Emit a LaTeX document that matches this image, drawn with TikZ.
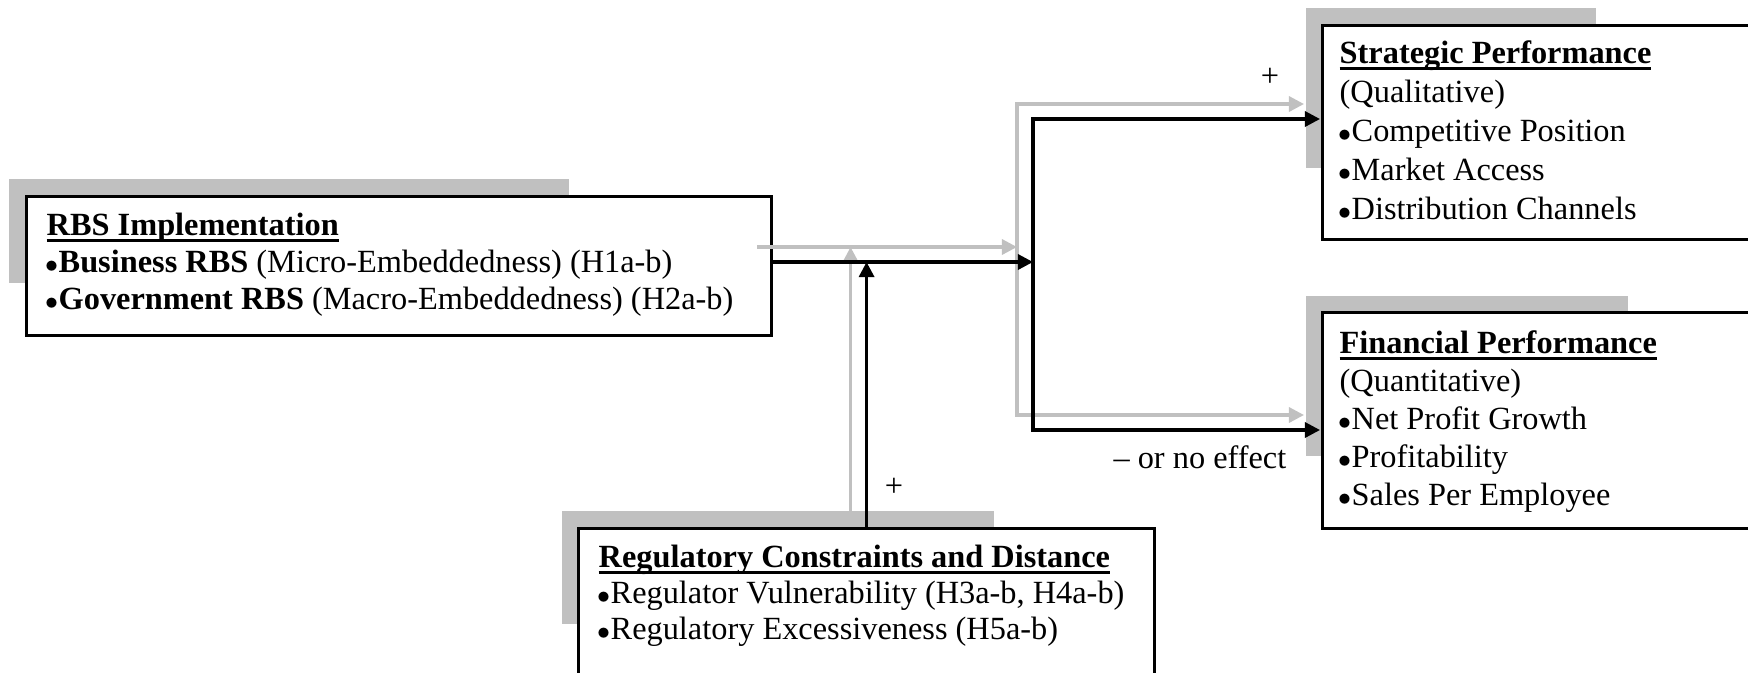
\documentclass[tikz,border=0pt]{standalone}
\usepackage{fontspec}
\setmainfont{Liberation Serif}
\usetikzlibrary{arrows.meta}
\definecolor{shadegray}{HTML}{C0C0C0}
\newcommand{\ulbf}[1]{\textbf{\setbox0\hbox{#1}\rlap{\rule[-1.9pt]{\wd0}{0.85pt}}\box0}}
\newcommand{\bul}{\makebox[0.37em][l]{\hspace{-0.05em}\scalebox{0.8}{$\bullet$}}}
\tikzset{
  box/.style    ={draw=black, line width=0.8pt, fill=white, anchor=north west, inner sep=0pt},
  shadowS/.style={fill=shadegray},
  flow/.style   ={black, line width=0.9pt, -{Triangle[length=4.3pt,width=4.3pt]}},
  flowG/.style  ={shadegray, line width=0.9pt, -{Triangle[length=4.3pt,width=4.3pt]}},
  txt/.style    ={anchor=base west, inner sep=0pt, font=\fontsize{9.2pt}{11pt}\selectfont},
  sh/.style     ={shift={(-16,-15)}},
}

\begin{document}
\begin{tikzpicture}[x=0.01cm, y=-0.01cm]
  \useasboundingbox (0,0) rectangle (1748,672);
  % shadows
  \fill[shadowS] (9,179)    rectangle (569,283);
  \fill[shadowS] (1306,8)   rectangle (1596,168);
  \fill[shadowS] (1306,296) rectangle (1628,456);
  \fill[shadowS] (562,511)  rectangle (994,624);
  % boxes
  \node[box, minimum width=7.45cm, minimum height=1.39cm] (rbs)   at (25,195)  {};
  \node[box, minimum width=5cm,    minimum height=2.14cm] (strat) at (1321,24) {};
  \node[box, minimum width=5cm,    minimum height=2.16cm] (fin)   at (1321,311) {};
  \node[box, minimum width=5.76cm, minimum height=2cm]    (reg)   at (577,527) {};
  % junctions
  \coordinate (split)   at (1033,262);
  \coordinate (src)     at (rbs.east |- split);
  \coordinate (modtop)  at (reg.north |- split);
  \coordinate (stratin) at (1320,119);
  \coordinate (finin)   at (1320,430);
  % gray echo of the links
  \draw[flowG] ([sh]src) -- ([sh]split);
  \draw[flowG] ([sh]split) |- ([sh]stratin);
  \draw[flowG] ([sh]split) |- ([sh]finin);
  \draw[flowG] ([sh]reg.north) -- ([sh]modtop);
  % links
  \draw[flow] (src) -- (split);
  \draw[flow] (split) |- (stratin);
  \draw[flow] (split) |- (finin);
  \draw[flow] (reg.north) -- (modtop);
  % box texts
  \foreach \t [count=\i] in {{\ulbf{RBS Implementation}},
      {\bul\textbf{Business RBS} (Micro-Embeddedness) (H1a-b)},
      {\bul\textbf{Government RBS} (Macro-Embeddedness) (H2a-b)}}
    \node[txt] (rbs-\i) at (46,{235+(\i-1)*37}) {\t};
  \foreach \t [count=\i] in {{\ulbf{Strategic Performance}}, (Qualitative),
      \bul Competitive Position, \bul Market Access, \bul Distribution Channels}
    \node[txt] (strat-\i) at (1339,{63+(\i-1)*39}) {\t};
  \foreach \t [count=\i] in {{\ulbf{Financial Performance}}, (Quantitative),
      \bul Net Profit Growth, \bul Profitability, \bul Sales Per Employee}
    \node[txt] (fin-\i) at (1339,{353+(\i-1)*38}) {\t};
  \foreach \t [count=\i] in {{\ulbf{Regulatory Constraints and Distance}},
      {\bul Regulator Vulnerability (H3a-b, H4a-b)},
      {\bul Regulatory Excessiveness (H5a-b)}}
    \node[txt] (reg-\i) at (598,{567+(\i-1)*36}) {\t};
  % effect signs
  \node[txt, anchor=center]    (plus-top) at (1270,77)  {+};
  \node[txt, anchor=center]    (plus-mod) at (894,487)  {+};
  \node[txt, anchor=base east] (neg-lbl)  at (1287,468) {– or no effect};
\end{tikzpicture}
\end{document}
